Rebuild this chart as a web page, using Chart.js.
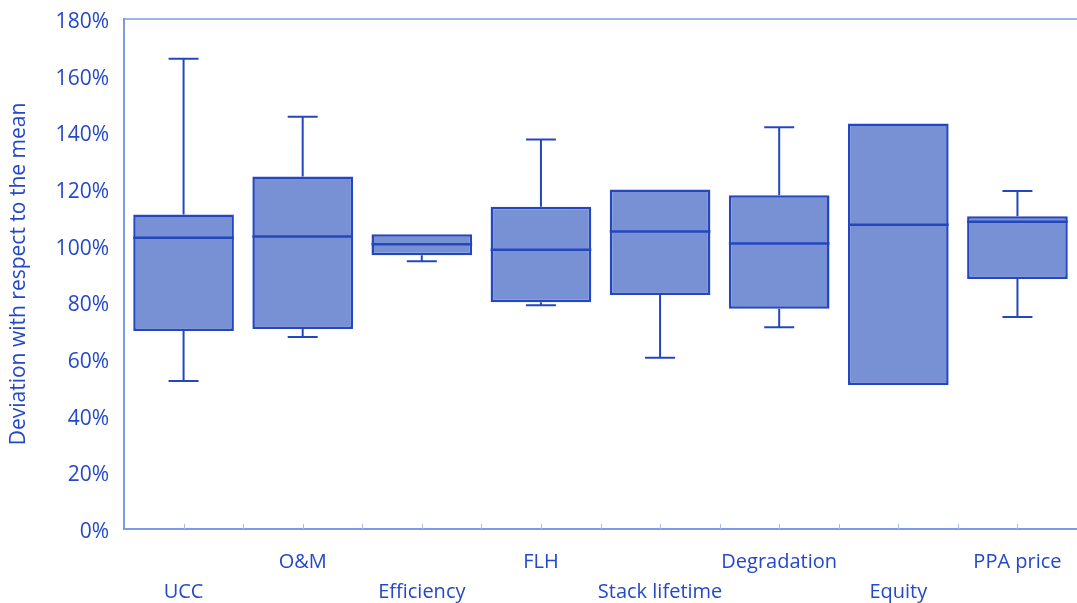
<!DOCTYPE html>
<html>
<head>
<meta charset="utf-8">
<script src="https://cdn.jsdelivr.net/npm/chart.js@4.4.1/dist/chart.umd.min.js"></script>
<style>
    html, body { margin: 0; padding: 0; background: #ffffff; }
    #chart { display: block; }
</style>
</head>
<body>
<canvas id="chart" width="1077" height="603"></canvas>
<script>
// values, in % of the mean
const categories = ['UCC', 'O&M', 'Efficiency', 'FLH', 'Stack lifetime', 'Degradation', 'Equity', 'PPA price'];
const minValues = [52.2, 67.8, 94.5, 79.0, 60.4, 71.2, 50.8, 74.8];
const q1Values = [69.9, 70.6, 96.6, 80.0, 82.6, 77.7, 50.8, 88.2];
const medianValues = [102.8, 103.2, 100.5, 98.6, 105.0, 100.8, 107.4, 108.4];
const q3Values = [111.0, 124.4, 104.0, 113.7, 119.8, 117.8, 143.1, 110.4];
const maxValues = [166.0, 145.5, 104.0, 137.5, 119.8, 141.8, 143.1, 119.3];
const yTicks = [0, 20, 40, 60, 80, 100, 120, 140, 160, 180];

const TEXT = '#2448c8';
const BOX_FILL = '#7890d4';
const BOX_LINE = '#2447c0';
const AXIS = '#7f9ae2';
const FONT = '"Open Sans", "Noto Sans", sans-serif';

// medians, whiskers and caps, drawn on top of the floating bars
const boxPlotExtras = {
    id: 'boxPlotExtras',
    afterDatasetsDraw(chart) {
        const {ctx, scales: {y}} = chart;
        const meta = chart.getDatasetMeta(0);
        ctx.save();
        ctx.strokeStyle = BOX_LINE;
        meta.data.forEach((bar, i) => {
            const half = bar.width / 2;
            const capHalf = 15;
            const x = bar.x;
            const yMed = y.getPixelForValue(medianValues[i]);
            ctx.lineWidth = 2.5;
            ctx.beginPath();
            ctx.moveTo(x - half, yMed);
            ctx.lineTo(x + half, yMed);
            ctx.stroke();

            ctx.lineWidth = 2;
            const whiskers = [[q3Values[i], maxValues[i]], [q1Values[i], minValues[i]]];
            whiskers.forEach(([from, to]) => {
                if (Math.abs(from - to) < 0.01) return;
                const y0 = y.getPixelForValue(from);
                const y1 = y.getPixelForValue(to);
                ctx.beginPath();
                ctx.moveTo(x, y0);
                ctx.lineTo(x, y1);
                ctx.moveTo(x - capHalf, y1);
                ctx.lineTo(x + capHalf, y1);
                ctx.stroke();
            });
        });
        ctx.restore();
    }
};

// plot frame top line and the small inward ticks on the category axis
const frame = {
    id: 'frame',
    beforeDatasetsDraw(chart) {
        const {ctx, chartArea, scales: {x}} = chart;
        ctx.save();
        ctx.strokeStyle = AXIS;
        ctx.lineWidth = 1.5;
        ctx.beginPath();
        ctx.moveTo(chartArea.left, chartArea.top);
        ctx.lineTo(chartArea.right, chartArea.top);
        ctx.stroke();

        ctx.strokeStyle = '#a9bbef';
        ctx.lineWidth = 1;
        const step = x.getPixelForValue(1) - x.getPixelForValue(0);
        categories.forEach((c, i) => {
            [0, 0.5].forEach(off => {
                const px = Math.round(x.getPixelForValue(i) + off * step) + 0.5;
                ctx.beginPath();
                ctx.moveTo(px, chartArea.bottom);
                ctx.lineTo(px, chartArea.bottom - 5);
                ctx.stroke();
            });
        });
        ctx.restore();
    }
};

new Chart(document.getElementById('chart'), {
    type: 'bar',
    data: {
        labels: categories,
        datasets: [{
            data: categories.map((c, i) => [q1Values[i], q3Values[i]]),
            backgroundColor: BOX_FILL,
            borderColor: BOX_LINE,
            borderWidth: 2.5,
            borderSkipped: false,
            categoryPercentage: 1,
            barPercentage: 0.845
        }]
    },
    options: {
        responsive: false,
        animation: false,
        devicePixelRatio: 1,
        layout: { padding: 0 },
        plugins: {
            legend: { display: false },
            tooltip: { enabled: false }
        },
        scales: {
            x: {
                offset: true,
                grid: { display: false, drawTicks: false },
                border: { display: true, color: AXIS, width: 2 },
                ticks: {
                    color: TEXT,
                    font: { family: FONT, size: 20, lineHeight: 1.5 },
                    padding: 18,
                    maxRotation: 0,
                    autoSkip: false,
                    callback: (value, i) => i % 2 === 0 ? ['', categories[i]] : [categories[i], '']
                },
                afterFit: scale => {
                    scale.height = 74;
                    scale.paddingLeft = 0;
                    scale.paddingRight = 0;
                }
            },
            y: {
                min: 0,
                max: 180,
                afterBuildTicks: scale => { scale.ticks = yTicks.map(v => ({ value: v })); },
                grid: { display: false, drawTicks: false },
                border: { display: true, color: AXIS, width: 2 },
                ticks: {
                    color: TEXT,
                    font: { family: FONT, size: 21 },
                    padding: 15,
                    labelOffset: 3,
                    callback: v => v + '%'
                },
                title: {
                    display: true,
                    text: 'Deviation with respect to the mean',
                    color: TEXT,
                    font: { family: FONT, size: 21 },
                    padding: { top: 6, bottom: 0 }
                },
                afterFit: scale => {
                    scale.width = 124;
                    scale.paddingTop = 19;
                    scale.paddingBottom = 0;
                }
            }
        }
    },
    plugins: [boxPlotExtras, frame]
});
</script>
</body>
</html>
